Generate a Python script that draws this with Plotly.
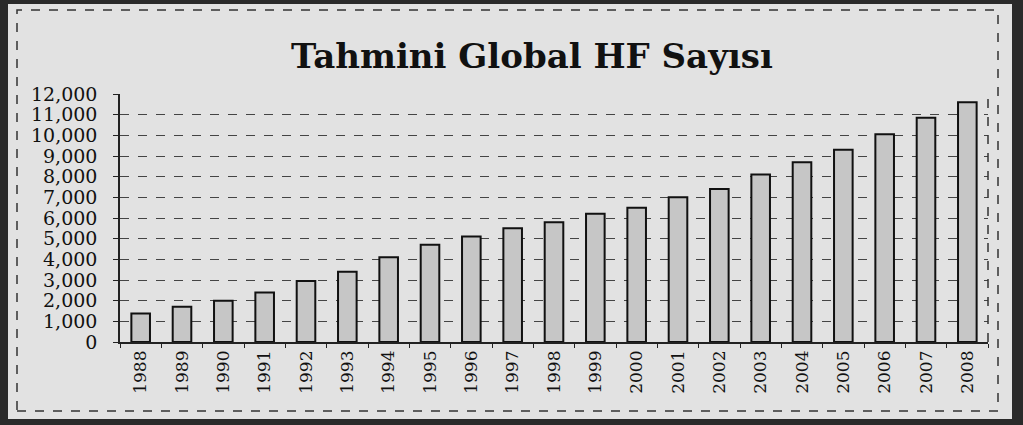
import plotly.graph_objects as go

years = [str(y) for y in range(1988, 2009)]
funds = [1380, 1700, 2000, 2400, 2950, 3400, 4100, 4700, 5100, 5500, 5800,
         6200, 6500, 7000, 7400, 8100, 8700, 9300, 10050, 10850, 11600]
y_ticks = list(range(0, 12001, 1000))

W, H = 1023, 425
L, R, T, B = 120, 988, 94, 342


def px(x):
    return (x - L) / (R - L)


def py(y):
    return (B - y) / (B - T)


fig = go.Figure()
fig.add_trace(go.Bar(
    x=years, y=funds,
    marker=dict(color="#c6c6c6", line=dict(color="#111111", width=2)),
    width=0.45,
))

fig.update_layout(
    width=W, height=H,
    margin=dict(l=L, r=W - R, t=T, b=H - B),
    paper_bgcolor="#2a2a2a",
    plot_bgcolor="#e2e2e2",
    showlegend=False,
    title=dict(text="<b>Tahmini Global HF Sayısı</b>",
               font=dict(family="DejaVu Serif", size=34, color="#111111"),
               x=532 / W, xanchor="center", y=1 - 56 / H, yanchor="middle",
               xref="container", yref="container"),
    shapes=[
        dict(type="rect", xref="paper", yref="paper", layer="below",
             x0=px(8), x1=px(1012), y0=py(419), y1=py(4),
             fillcolor="#e2e2e2", line=dict(width=0)),
        dict(type="rect", xref="paper", yref="paper", layer="below",
             x0=px(17), x1=px(998), y0=py(411), y1=py(10),
             fillcolor="rgba(0,0,0,0)", line=dict(color="#333333", width=1.5, dash="dash")),
    ],
)

fig.update_yaxes(
    range=[0, 12000], tickvals=y_ticks, tickformat=",d",
    showgrid=True, gridcolor="#444444", gridwidth=1, griddash="dash",
    showline=True, linecolor="#222222", linewidth=1.5,
    ticks="outside", ticklen=5, tickcolor="#222222",
    ticklabelstandoff=12,
    tickfont=dict(family="DejaVu Serif", size=19, color="#111111"),
    zeroline=False,
)
fig.update_xaxes(
    type="category", tickangle=-90,
    showline=True, linecolor="#222222", linewidth=1.5,
    ticks="outside", ticklen=4, tickcolor="#222222", tickson="boundaries",
    tickfont=dict(family="DejaVu Serif", size=17, color="#111111"),
    mirror=False,
)
# right border of plot area
fig.add_shape(type="line", xref="paper", yref="paper", x0=1, x1=1, y0=0, y1=1,
              line=dict(color="#333333", width=1.5, dash="dash"))

fig.write_html("out.html")
